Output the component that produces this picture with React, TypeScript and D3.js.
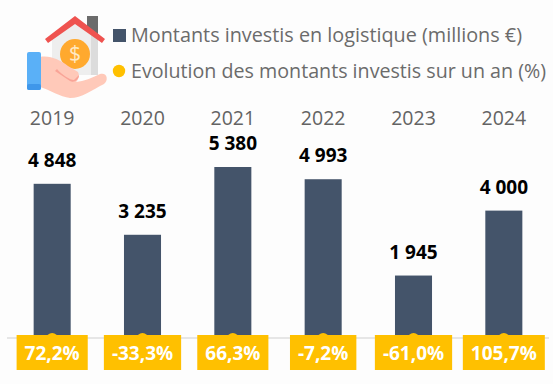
import React, { useEffect, useRef } from "react";
import * as d3 from "d3";

const years = ["2019", "2020", "2021", "2022", "2023", "2024"];
const amounts = [4848, 3235, 5380, 4993, 1945, 4000];
const amountLabels = ["4 848", "3 235", "5 380", "4 993", "1 945", "4 000"];
const changes = ["72,2%", "-33,3%", "66,3%", "-7,2%", "-61,0%", "105,7%"];
const legendLabels = ["Montants investis en logistique (millions €)", "Evolution des montants investis sur un an (%)"];

const W = 553, H = 384;
const FONT = "'Open Sans', 'Noto Sans', sans-serif";

function Icon() {
  return (
    <g>
      <rect x="87" y="16" width="11" height="24" fill="#6b6b6b" />
      <path d="M52 38 L75 20 L98 38 L98 75 L52 75 Z" fill="#eeeeee" />
      <path d="M91 32 L98 38 L98 75 L91 75 Z" fill="#dcdcdc" />
      <path d="M45 39 L75 16 L105 39 L102 43 L75 24 L48 43 Z" fill="#ef5350" />
      <circle cx="75" cy="54" r="15" fill="#ffa92e" />
      <text x="75" y="61" textAnchor="middle" fontSize="21" fontFamily={FONT} fill="#ffe9c4">$</text>
      <path d="M40 57 C50 55 60 60 68 66 L78 72 C80 76 78 80 76 82 C84 81 92 78 100 74 C107 72 109 80 104 84 C92 90 82 98 70 98 C60 97 50 90 40 87 Z" fill="#ffc9b9" />
      <path d="M55 71 L70 81 C74 83 79 80 79 75 L74 80 C70 80 62 75 57 69 Z" fill="#f9a497" />
      <rect x="27" y="52" width="14" height="38" rx="2" fill="#5ab0f7" />
      <rect x="27" y="84" width="14" height="6" rx="2" fill="#3f97ea" />
    </g>
  );
}

export default function App() {
  const ref = useRef<SVGSVGElement>(null);
  useEffect(() => {
    const svg = d3.select(ref.current!);
    svg.selectAll("g.chart").remove();
    const g = svg.append("g").attr("class", "chart").style("font-family", FONT);

    const baseline = 337;
    const x = d3.scaleBand<string>().domain(years).range([7, 549]).paddingInner(0.59).paddingOuter(0.295);
    const y = d3.scaleLinear().domain([0, 5380]).range([baseline, 167]);

    // legend
    g.append("rect").attr("x", 113).attr("y", 29).attr("width", 13).attr("height", 13).attr("fill", "#44546a");
    g.append("circle").attr("cx", 119).attr("cy", 71).attr("r", 6.2).attr("fill", "#ffc000");
    g.selectAll("text.legend").data(legendLabels).join("text").attr("class", "legend")
      .attr("x", 131).attr("y", (_, i) => 42 + i * 36)
      .attr("font-size", 19.5).attr("fill", "#6b6b6b").text(d => d)
      .attr("textLength", (_, i) => (i === 0 ? 391 : 415)).attr("lengthAdjust", "spacingAndGlyphs");

    // years
    g.selectAll("text.year").data(years).join("text").attr("class", "year")
      .attr("x", d => x(d)! + x.bandwidth() / 2).attr("y", 125).attr("text-anchor", "middle")
      .attr("font-size", 19.5).attr("fill", "#636363").text(d => d);

    // axis line
    g.append("line").attr("x1", 7).attr("x2", 549).attr("y1", baseline + 1).attr("y2", baseline + 1)
      .attr("stroke", "#dedede").attr("stroke-width", 1.5);

    // bars
    g.selectAll("rect.bar").data(amounts).join("rect").attr("class", "bar")
      .attr("x", (_, i) => x(years[i])!).attr("width", x.bandwidth())
      .attr("y", d => y(d)).attr("height", d => baseline - y(d)).attr("fill", "#44546a");

    // value labels
    g.selectAll("text.val").data(amounts).join("text").attr("class", "val")
      .attr("x", (_, i) => x(years[i])! + x.bandwidth() / 2).attr("y", d => y(d) - 17)
      .attr("text-anchor", "middle").attr("font-size", 19).attr("font-weight", 700).attr("fill", "#000")
      .text((_, i) => amountLabels[i]);

    // line-series markers
    g.selectAll("circle.pt").data(years).join("circle").attr("class", "pt")
      .attr("cx", d => x(d)! + x.bandwidth() / 2).attr("cy", baseline + 2).attr("r", 6).attr("fill", "#ffc000");

    // change label boxes
    const lab = g.selectAll("g.chg").data(changes).join("g").attr("class", "chg")
      .attr("transform", (_, i) => `translate(${x(years[i])! + x.bandwidth() / 2},352.5)`);
    const rects = lab.append("rect").attr("fill", "#ffc000");
    const texts = lab.append("text").attr("text-anchor", "middle").attr("y", 7)
      .attr("font-size", 19).attr("font-weight", 700).attr("fill", "#fff").text(d => d);
    const widths = texts.nodes().map(n => (n as SVGTextElement).getComputedTextLength());
    rects.attr("x", (_, i) => -widths[i] / 2 - 8).attr("width", (_, i) => widths[i] + 16).attr("y", -17.5).attr("height", 35);
  }, []);
  return (
    <svg ref={ref} width={W} height={H} style={{ position: "absolute", left: 0, top: 0, background: "#fdfdfd" }}>
      <Icon />
    </svg>
  );
}
